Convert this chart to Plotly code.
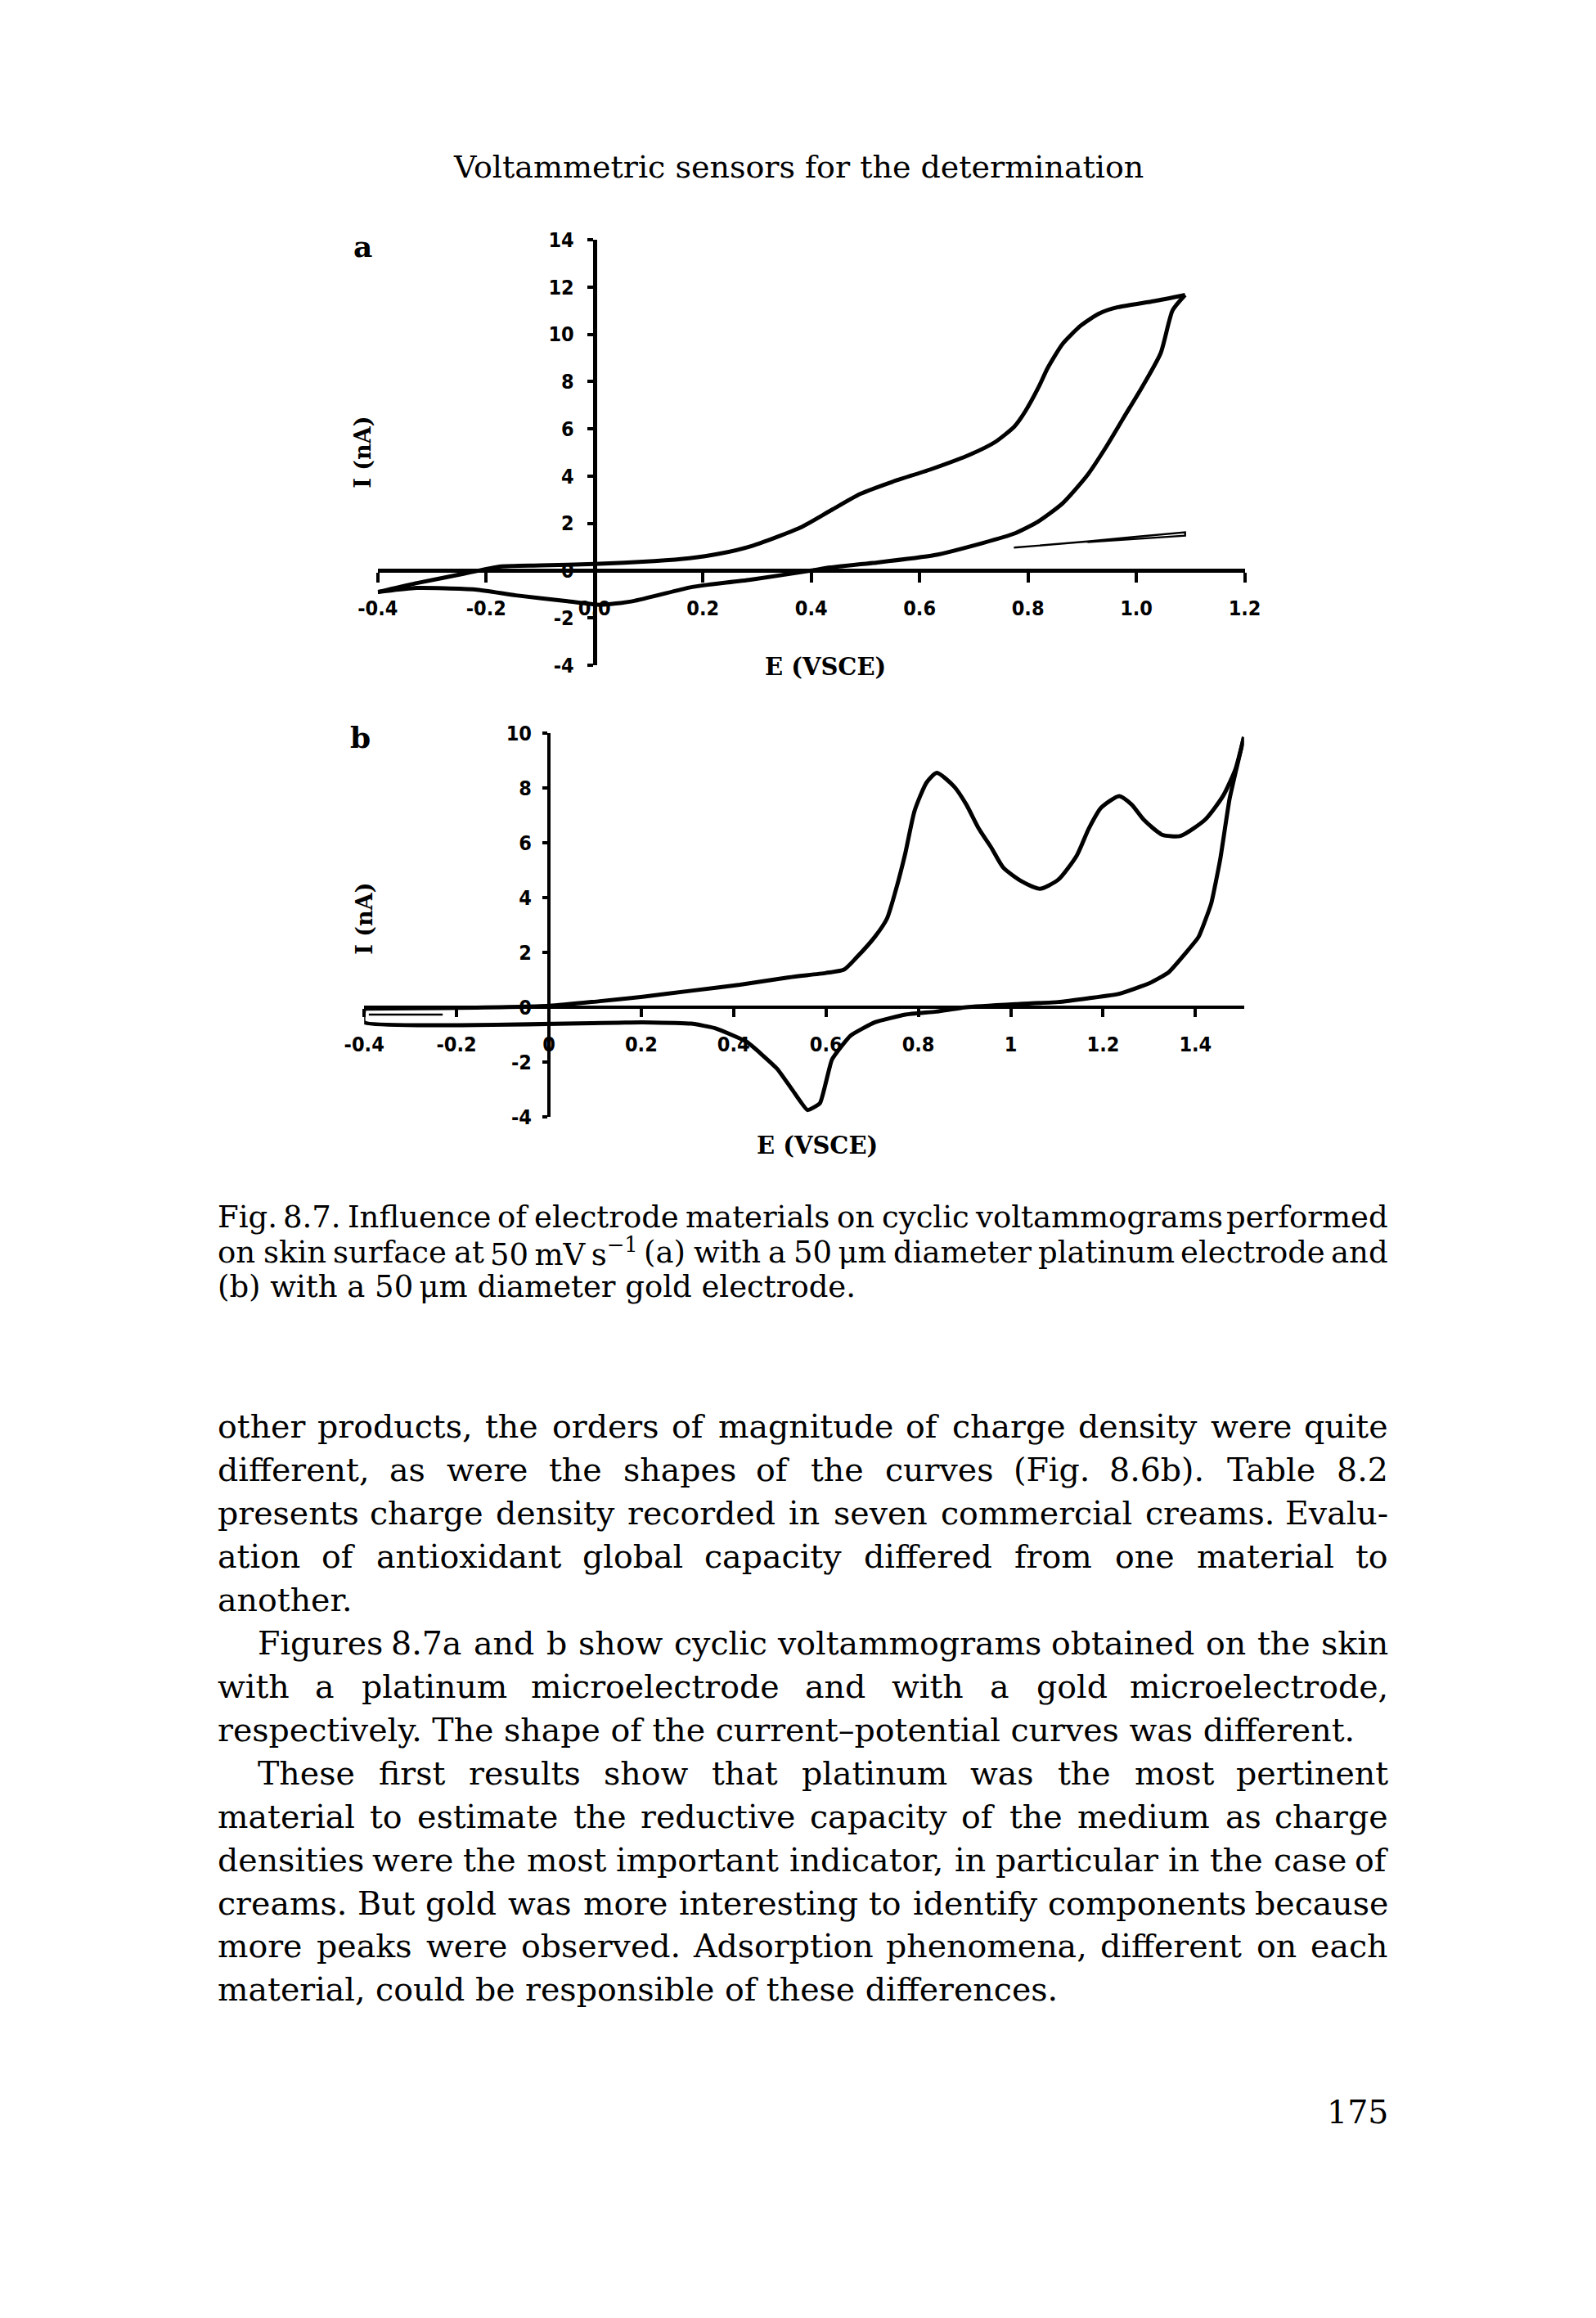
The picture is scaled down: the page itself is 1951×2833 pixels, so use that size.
import re
import plotly.graph_objects as go

W, H = 1951, 2833
OFF = 8                      # default page margin of the html body
FW, FH = W - 2 * OFF, H - 2 * OFF

# ---- panel a: platinum microelectrode ----
pt_fwd_e = [-0.40, -0.33, -0.24, -0.175, -0.10, 0.00, 0.11, 0.175, 0.23, 0.29, 0.38, 0.435, 0.49,
            0.55, 0.62, 0.695, 0.74, 0.775, 0.795, 0.82, 0.836, 0.864, 0.898, 0.932, 0.966, 1.033, 1.09]
pt_fwd_i = [-0.91, -0.54, -0.13, 0.17, 0.22, 0.28, 0.40, 0.52, 0.71, 1.04, 1.82, 2.53, 3.24,
            3.76, 4.28, 4.93, 5.45, 6.10, 6.74, 7.78, 8.56, 9.60, 10.38, 10.89, 11.15, 11.41, 11.67]
pt_rev_e = [1.09, 1.067, 1.045, 1.011, 0.977, 0.943, 0.909, 0.864, 0.819, 0.774, 0.717, 0.627, 0.514,
            0.435, 0.40, 0.288, 0.21, 0.175, 0.07, 0.01, -0.05, -0.145, -0.22, -0.333, -0.40]
pt_rev_i = [11.67, 11.02, 9.21, 7.78, 6.49, 5.19, 4.02, 2.85, 2.08, 1.56, 1.17, 0.65, 0.32,
            0.13, 0.0, -0.39, -0.60, -0.72, -1.30, -1.45, -1.30, -1.05, -0.80, -0.74, -0.91]
pt_blank_e = [0.774, 0.91, 1.0, 1.09, 1.09, 1.0, 0.91]
pt_blank_i = [0.97, 1.23, 1.43, 1.62, 1.48, 1.33, 1.20]

# ---- panel b: gold microelectrode ----
au_fwd_e = [-0.40, -0.22, 0.00, 0.11, 0.203, 0.308, 0.414, 0.52, 0.60, 0.639, 0.666, 0.706, 0.732,
            0.752, 0.772, 0.792, 0.818, 0.840, 0.878, 0.904, 0.931, 0.957, 0.984, 1.023, 1.063,
            1.103, 1.143, 1.169, 1.196, 1.235, 1.262, 1.288, 1.328, 1.368, 1.421, 1.460, 1.487, 1.505]
au_fwd_i = [-0.05, -0.03, 0.05, 0.22, 0.38, 0.60, 0.82, 1.09, 1.25, 1.37, 1.81, 2.57, 3.23,
            4.32, 5.63, 7.17, 8.20, 8.55, 8.04, 7.39, 6.51, 5.85, 5.09, 4.60, 4.32,
            4.65, 5.53, 6.51, 7.28, 7.70, 7.39, 6.84, 6.29, 6.25, 6.84, 7.71, 8.70, 9.85]
au_rev_e = [1.505, 1.474, 1.454, 1.434, 1.407, 1.381, 1.341, 1.301, 1.235, 1.169, 1.103, 1.010, 0.904,
            0.838, 0.772, 0.706, 0.653, 0.613, 0.587, 0.560, 0.527, 0.494, 0.428, 0.361, 0.308,
            0.203, -0.40, -0.40]
au_rev_i = [9.85, 7.60, 5.42, 3.77, 2.57, 2.02, 1.26, 0.88, 0.49, 0.33, 0.19, 0.11, 0.0,
            -0.16, -0.27, -0.55, -1.04, -1.91, -3.50, -3.75, -3.01, -2.24, -1.26, -0.77, -0.60,
            -0.55, -0.55, -0.05]
au_inner_e = [-0.39, -0.23]
au_inner_i = [-0.27, -0.27]

# axis ticks
a_xticks = [-0.4, -0.2, 0.0, 0.2, 0.4, 0.6, 0.8, 1.0, 1.2]
a_xlabels = ["-0.4", "-0.2", "0.0", "0.2", "0.4", "0.6", "0.8", "1.0", "1.2"]
a_yticks = [14, 12, 10, 8, 6, 4, 2, 0, -2, -4]
a_ylabels = ["14", "12", "10", "8", "6", "4", "2", "0", "-2", "-4"]
b_xticks = [-0.4, -0.2, 0, 0.2, 0.4, 0.6, 0.8, 1.0, 1.2, 1.4]
b_xlabels = ["-0.4", "-0.2", "0", "0.2", "0.4", "0.6", "0.8", "1", "1.2", "1.4"]
b_yticks = [10, 8, 6, 4, 2, 0, -2, -4]
b_ylabels = ["10", "8", "6", "4", "2", "0", "-2", "-4"]

# page text
header = "Voltammetric sensors for the determination"
caption = [
    ("Fig. 8.7. Influence of electrode materials on cyclic voltammograms performed", True),
    ("on skin surface at 50\u2009mV\u2009s<sup>\u22121</sup> (a) with a 50\u2009\u03bcm diameter platinum electrode and", True),
    ("(b) with a 50\u2009\u03bcm diameter gold electrode.", False),
]
body = [
    ("other products, the orders of magnitude of charge density were quite", True, 0),
    ("different, as were the shapes of the curves (Fig. 8.6b). Table 8.2", True, 0),
    ("presents charge density recorded in seven commercial creams. Evalu-", True, 0),
    ("ation of antioxidant global capacity differed from one material to", True, 0),
    ("another.", False, 0),
    ("Figures 8.7a and b show cyclic voltammograms obtained on the skin", True, 1),
    ("with a platinum microelectrode and with a gold microelectrode,", True, 0),
    ("respectively. The shape of the current\u2013potential curves was different.", False, 0),
    ("These first results show that platinum was the most pertinent", True, 1),
    ("material to estimate the reductive capacity of the medium as charge", True, 0),
    ("densities were the most important indicator, in particular in the case of", True, 0),
    ("creams. But gold was more interesting to identify components because", True, 0),
    ("more peaks were observed. Adsorption phenomena, different on each", True, 0),
    ("material, could be responsible of these differences.", False, 0),
]
page_no = "175"

# rough advance widths of DejaVu Serif (em)
CW = {' ': .318, ',': .318, '.': .318, '-': .338, '(': .390, ')': .390, '\u2013': .5, '\u2212': .838,
      '\u2009': .15, '\u03bc': .65}
CW.update({d: .636 for d in "0123456789"})
CW.update(dict(zip("abcdefghijklmnopqrstuvwxyz",
                   [.598, .640, .561, .640, .592, .372, .640, .642, .321, .311, .604, .321, .970,
                    .642, .602, .640, .640, .477, .513, .402, .642, .582, .840, .582, .582, .530])))
CW.update(dict(zip("ABCDEFGHIJKLMNOPQRSTUVWXYZ",
                   [.722, .688, .716, .774, .685, .643, .777, .854, .404, .400, .740, .639, .980,
                    .824, .787, .626, .787, .707, .645, .676, .802, .722, 1.066, .722, .685, .675])))


def text_em(s):
    sup = ''.join(re.findall(r'<sup>(.*?)</sup>', s))
    plain = re.sub(r'<[^>]+>', '', s)
    return sum(CW.get(c, .6) for c in plain) - 0.3 * sum(CW.get(c, .6) for c in sup)


def px(x):
    return (x - OFF) / FW


def py(y):
    return 1 - (y - OFF) / FH


SERIF = "DejaVu Serif"
annots = []


def add_text(x, y, text, size, xanchor='left', bold=False, angle=0, family=SERIF):
    annots.append(dict(x=px(x), y=py(y), xref='paper', yref='paper', text=text,
                       showarrow=False, xanchor=xanchor, yanchor='middle', textangle=angle,
                       borderpad=0, borderwidth=0,
                       font=dict(family=family, size=size, color='black',
                                 weight='bold' if bold else 'normal')))


def place_line(text, y, size, left, right, justify):
    if not justify:
        add_text(left, y, text, size)
        return
    words = text.split(' ')
    widths = [text_em(w) * size for w in words]
    gap = (right - left - sum(widths)) / (len(words) - 1)
    x = left
    for k, (w, wd) in enumerate(zip(words, widths)):
        if k == 0:
            add_text(left, y, w, size)
        elif k == len(words) - 1:
            add_text(right, y, w, size, xanchor='right')
        else:
            add_text(x + wd / 2, y, w, size, xanchor='center')
        x += wd + gap


LEFT, RIGHT, INDENT = 247, 1712, 50

add_text(973, 192, header, 38, xanchor='center')
for k, (line, just) in enumerate(caption):
    place_line(line, 1489 + 43 * k, 37, LEFT, RIGHT, just)
for k, (line, just, ind) in enumerate(body):
    place_line(line, 1747 + 53.5 * k, 39.5, LEFT + INDENT * ind, RIGHT, just)
add_text(RIGHT, 2594, page_no, 39.5, xanchor='right')

# chart labels
LBL = "DejaVu Serif"
add_text(428, 290, "a", 36, xanchor='center', bold=True, family=LBL)
add_text(425, 896, "b", 36, xanchor='center', bold=True, family=LBL)
add_text(1007, 809, "E (VSCE)", 29, xanchor='center', bold=True, family=LBL)
add_text(997, 1400, "E (VSCE)", 29, xanchor='center', bold=True, family=LBL)
add_text(428, 544, "I (nA)", 27, xanchor='center', bold=True, angle=-90, family=LBL)
add_text(430, 1120, "I (nA)", 27, xanchor='center', bold=True, angle=-90, family=LBL)

# ---- figure ----
fig = go.Figure()
thick = dict(color='black', width=5, shape='spline', smoothing=0.6)
fig.add_trace(go.Scatter(x=pt_fwd_e, y=pt_fwd_i, mode='lines', line=thick, xaxis='x', yaxis='y'))
fig.add_trace(go.Scatter(x=pt_rev_e, y=pt_rev_i, mode='lines', line=thick, xaxis='x', yaxis='y'))
fig.add_trace(go.Scatter(x=pt_blank_e, y=pt_blank_i, mode='lines',
                         line=dict(color='black', width=2.4), xaxis='x', yaxis='y'))
fig.add_trace(go.Scatter(x=au_fwd_e, y=au_fwd_i, mode='lines', line=thick, xaxis='x2', yaxis='y2'))
fig.add_trace(go.Scatter(x=au_rev_e, y=au_rev_i, mode='lines',
                         line=dict(color='black', width=5, shape='spline', smoothing=0.4),
                         xaxis='x2', yaxis='y2'))
fig.add_trace(go.Scatter(x=au_inner_e, y=au_inner_i, mode='lines',
                         line=dict(color='black', width=2.5), xaxis='x2', yaxis='y2'))

TICKFONT = dict(family="DejaVu Sans Condensed, DejaVu Sans, sans-serif",
                size=25, color='black', weight='bold')


def setup(xr, yr, xpix, ypix, xt, xl, yt, yl, lw, xlen, ylen, xstand, ystand):
    xdom = [px(xpix[0]), px(xpix[1])]
    ydom = [py(ypix[0]), py(ypix[1])]
    xpos = ydom[0] + (0 - yr[0]) / (yr[1] - yr[0]) * (ydom[1] - ydom[0])
    ypos = xdom[0] + (0 - xr[0]) / (xr[1] - xr[0]) * (xdom[1] - xdom[0])
    common = dict(showline=True, linecolor='black', linewidth=lw, ticks='outside',
                  tickwidth=4, tickcolor='black', showgrid=False, zeroline=False,
                  tickfont=TICKFONT, anchor='free', fixedrange=True)
    xa = dict(common, domain=xdom, range=xr, position=xpos, tickvals=xt, ticktext=xl,
              ticklen=xlen, ticklabelstandoff=xstand)
    ya = dict(common, domain=ydom, range=yr, position=ypos, tickvals=yt, ticktext=yl,
              ticklen=ylen, ticklabelstandoff=ystand)
    return xa, ya


xa1, ya1 = setup([-0.4, 1.2], [-4, 14], (447, 1532), (807, 282),
                 a_xticks, a_xlabels, a_yticks, a_ylabels, 5, 12, 7, 10, 11)
xa2, ya2 = setup([-0.4, 1.505], [-4, 10], (430, 1531), (1365, 891),
                 b_xticks, b_xlabels, b_yticks, b_ylabels, 4, 10, 6, 12, 8)

fig.update_layout(
    width=FW, height=FH, margin=dict(l=0, r=0, t=0, b=0),
    paper_bgcolor='white', plot_bgcolor='white', showlegend=False,
    xaxis=xa1, yaxis=ya1, xaxis2=xa2, yaxis2=ya2,
    annotations=annots, hovermode=False,
)

fig.write_html("out.html")
